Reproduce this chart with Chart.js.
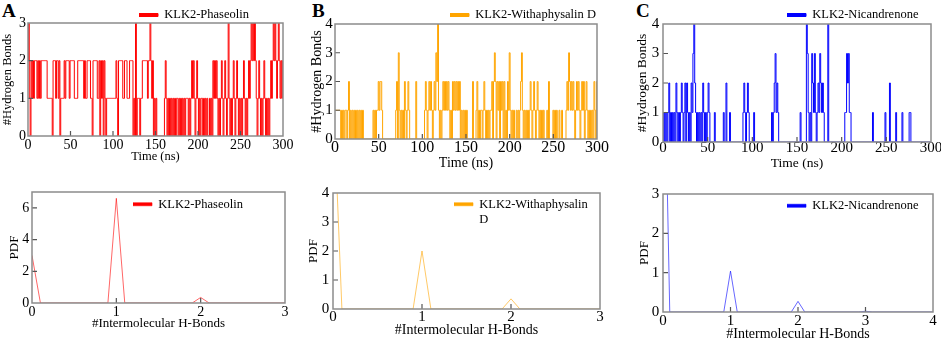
<!DOCTYPE html>
<html>
<head>
<meta charset="utf-8">
<script src="https://cdn.jsdelivr.net/npm/chart.js@4.4.1/dist/chart.umd.min.js"></script>
<style>
  body { margin: 0; background: #fff; }
  #wrap { position: relative; width: 941px; height: 340px; overflow: hidden; }
  #wrap canvas { position: absolute; }
  .tag { position: absolute; font: bold 19px/19px "Liberation Serif", serif; color: #000; }
</style>
</head>
<body>
<div id="wrap">
  <div class="tag" style="left:2px;top:1px">A</div>
  <div class="tag" style="left:312px;top:1px">B</div>
  <div class="tag" style="left:636px;top:1px">C</div>
  <canvas id="hbA" width="305" height="170" style="left:0;top:0"></canvas>
  <canvas id="hbB" width="320" height="175" style="left:305px;top:0"></canvas>
  <canvas id="hbC" width="320" height="175" style="left:625px;top:0"></canvas>
  <canvas id="pdfA" width="305" height="170" style="left:0;top:170px"></canvas>
  <canvas id="pdfB" width="320" height="170" style="left:305px;top:170px"></canvas>
  <canvas id="pdfC" width="320" height="175" style="left:625px;top:170px"></canvas>
</div>
<script>
"use strict";

// H-bond count per frame, one value per ns (0..300 ns)
const timeStepNs = 1;
const hbPhaseolin = [
  2,3,1,0,2,1,2,1,2,2, 2,1,2,1,2,1,2,2,2,2, 2,2,2,1,1,1,1,1,1,0, 2,2,2,1,2,2,1,2,0,1,
  1,1,1,2,1,2,2,2,2,1, 2,2,2,2,2,1,1,1,1,2, 2,2,2,2,2,2,1,2,1,1, 2,2,2,2,1,1,0,2,2,2,
  2,2,1,1,2,0,2,1,2,0, 2,1,0,1,1,1,1,1,1,1, 1,1,1,1,2,1,0,2,2,2, 2,2,1,1,2,2,2,1,1,1,
  2,2,2,2,0,1,0,3,0,1, 1,1,0,1,1,2,2,2,2,2, 2,1,2,2,3,2,1,2,0,1, 0,1,0,0,0,0,0,0,0,0,
  0,1,2,1,0,1,0,1,0,1, 0,1,0,1,0,1,1,0,1,0, 1,0,1,0,1,0,1,1,1,0, 1,0,1,2,1,2,1,0,1,2,
  1,0,1,0,1,1,0,1,0,1, 0,1,0,0,1,0,1,0,2,1, 2,1,2,1,0,1,0,1,2,1, 0,1,2,1,0,1,3,1,0,1,
  0,1,2,1,0,1,2,1,0,1, 0,1,0,1,2,1,0,1,0,1, 2,1,2,3,2,3,2,3,2,1, 0,1,2,1,0,1,0,1,2,1,
  0,1,0,1,0,1,2,1,2,3, 2,3,2,1,2,3,2,1,2,1, 2
];
const hbWithaphysalin = [
  1,1,1,1,1,1,1,0,1,0, 1,0,1,1,0,1,2,0,1,0, 1,0,1,0,1,0,1,0,1,0, 1,0,1,0,0,0,0,0,0,0,
  0,0,0,0,1,0,1,0,1,1, 2,1,2,2,1,0,0,0,0,0, 0,0,0,0,0,0,0,0,0,0, 1,2,0,3,1,0,1,0,1,0,
  2,1,0,1,2,1,0,0,0,0, 0,0,0,2,0,0,0,0,0,0, 0,0,0,1,2,1,0,1,2,1, 2,1,0,1,2,1,3,2,4,1,
  0,1,0,1,2,1,2,1,2,1, 2,1,0,1,0,2,1,2,1,2, 1,2,1,2,0,1,0,1,0,1, 0,1,0,0,0,0,0,0,2,0,
  0,0,1,2,0,1,0,1,1,0, 1,2,1,0,1,0,1,0,1,1, 2,0,2,3,2,0,2,1,2,0, 2,1,2,0,2,0,1,0,2,1,
  3,1,0,1,0,1,0,0,1,0, 1,0,1,2,3,1,0,1,0,1, 0,1,0,1,2,1,0,1,2,1, 0,1,2,1,0,1,0,1,0,1,
  0,0,0,1,0,2,0,0,0,0, 1,0,1,0,1,0,0,1,0,0, 1,0,0,0,0,1,2,1,3,2, 1,2,1,2,1,0,1,2,1,2,
  1,0,1,2,1,2,0,1,2,1, 0,1,0,1,0,1,0,2,1,0, 2
];
const hbNicandrenone = [
  1,0,1,0,1,0,1,2,0,1, 0,1,0,1,0,2,1,0,1,0, 1,2,1,0,1,2,0,2,1,0, 1,0,2,1,3,4,2,1,0,1,
  0,1,0,1,0,2,1,0,1,0, 1,2,1,0,0,0,0,0,1,0, 0,0,0,0,0,0,0,0,1,0, 0,2,0,0,0,1,0,0,0,0,
  0,0,0,0,0,0,0,0,0,0, 1,2,1,0,1,2,1,0,0,0, 0,0,1,0,0,0,0,0,0,0, 0,0,0,0,0,0,0,0,0,0,
  0,0,1,0,1,2,3,1,2,1, 0,0,0,0,0,0,0,0,0,0, 0,0,0,0,0,0,0,0,0,0, 0,0,0,0,1,0,0,0,0,0,
  0,4,3,1,0,1,0,3,2,1, 3,1,0,1,2,1,3,2,1,2, 1,0,0,0,0,4,0,0,0,0, 0,0,0,0,0,0,0,0,0,0,
  0,0,0,0,1,1,3,2,3,1, 1,0,0,0,0,0,0,0,0,0, 0,0,0,0,0,0,0,0,0,0, 0,0,0,0,0,1,0,0,0,0,
  0,0,0,0,0,0,0,0,0,1, 0,0,0,0,2,0,0,0,0,0, 0,1,0,0,0,0,0,0,1,0, 0,0,0,0,0,0,1,1,0,0,
  0,0,0,0,0,0,0,0,0,0, 0,0,0,0,0,0,0,0,0,0, 0
];

// probability density of the H-bond count
const pdfBondsAB = [0, 0.1, 0.9, 1, 1.1, 1.9, 2, 2.1, 3];
const pdfBondsC = [0, 0.1, 0.9, 1, 1.1, 1.9, 2, 2.1, 2.9, 3, 3.1, 4];
const pdfPhaseolin = [3.0, 0, 0, 6.6, 0, 0, 0.35, 0, 0];
const pdfWithaphysalin = [7.6, 0, 0, 2.0, 0, 0, 0.35, 0, 0];
const pdfNicandrenone = [8.66, 0, 0, 1.04, 0, 0, 0.27, 0, 0, 0.02, 0, 0];

const timeTicks = [0, 300, 50];
const serif = '"Liberation Serif", "Times New Roman", serif';

// grey frame all round + short ticks pointing inward (xmgrace look)
const frameAndTicks = {
  id: 'frameAndTicks',
  afterDatasetsDraw(chart) {
    const { ctx, chartArea: a, scales } = chart;
    ctx.save();
    ctx.strokeStyle = '#555';
    ctx.lineWidth = 1.2;
    ctx.beginPath();
    scales.x.ticks.forEach(t => {
      if (t.value <= scales.x.min || t.value >= scales.x.max) return;
      const px = scales.x.getPixelForValue(t.value);
      ctx.moveTo(px, a.bottom); ctx.lineTo(px, a.bottom - 5);
    });
    scales.y.ticks.forEach(t => {
      if (t.value <= scales.y.min || t.value >= scales.y.max) return;
      const py = scales.y.getPixelForValue(t.value);
      ctx.moveTo(a.left, py); ctx.lineTo(a.left + 5, py);
    });
    ctx.stroke();
    ctx.strokeStyle = '#8c8c8c';
    ctx.lineWidth = 1.5;
    ctx.strokeRect(a.left, a.top, a.right - a.left, a.bottom - a.top);
    ctx.restore();
  }
};

// put the legend where the figure has it
const legendSpot = {
  id: 'legendSpot',
  afterLayout(chart, args, opts) {
    const lg = chart.legend;
    if (!lg || opts.x === undefined) return;
    lg.left = opts.x; lg.top = opts.y;
    lg.right = opts.x + 230; lg.bottom = opts.y + 40;
    lg.width = 230; lg.height = 40;
  }
};

function drawPanel(id, s) {
  new Chart(document.getElementById(id), {
    type: 'line',
    data: {
      datasets: [{
        label: s.label,
        data: s.xs.map((x, i) => ({ x: x, y: s.ys[i] })),
        borderColor: s.line,
        backgroundColor: s.color,
        borderWidth: s.width,
        stepped: s.stepped || false,
        pointRadius: 0,
        tension: 0
      }]
    },
    options: {
      responsive: false,
      animation: false,
      devicePixelRatio: 1,
      layout: { padding: s.pad },
      plugins: {
        tooltip: { enabled: false },
        legend: {
          position: 'chartArea',
          align: 'start',
          labels: { boxWidth: 19, boxHeight: 3, padding: 0, color: '#000', font: { family: serif, size: 12.5 } }
        },
        legendSpot: { x: s.legend[0], y: s.legend[1] }
      },
      scales: {
        x: {
          type: 'linear', min: s.xRange[0], max: s.xRange[1],
          grid: { display: false, drawTicks: false },
          border: { display: false },
          ticks: { stepSize: s.xRange[2], maxRotation: 0, padding: s.xTickPad, color: '#000',
                   font: { family: serif, size: s.xTickSize, lineHeight: 1 } },
          title: { display: true, text: s.xTitle, color: '#000', padding: { top: 0, bottom: s.xTitlePad },
                   font: { family: serif, size: s.xTitleSize } },
          afterFit: sc => { sc.height = s.xh; }
        },
        y: {
          min: 0, max: s.yMax,
          grid: { display: false, drawTicks: false },
          border: { display: false },
          ticks: { stepSize: 1, padding: s.yTickPad, color: '#000',
                   font: { family: serif, size: s.yTickSize, lineHeight: 1 } },
          title: { display: true, text: s.yTitle, color: '#000', padding: { top: 0, bottom: 0 },
                   font: { family: serif, size: s.yTitleSize } },
          afterFit: sc => { sc.width = s.yw; }
        }
      }
    },
    plugins: [frameAndTicks, legendSpot]
  });
}

const timeAxis = hbPhaseolin.map((v, i) => i * timeStepNs);

drawPanel('hbA', {
  label: 'KLK2-Phaseolin', xs: timeAxis, ys: hbPhaseolin, line: '#ff0000', color: '#ff0000', width: 1, stepped: 'middle',
  pad: { left: 0, top: 23, right: 22, bottom: 0 }, yw: 28, xh: 34,
  xRange: timeTicks, yMax: 3, xTickPad: 2.5, xTickSize: 14, xTitle: 'Time (ns)', xTitlePad: 5.5, xTitleSize: 12.5,
  yTickPad: 2, yTickSize: 14, yTitle: '#Hydrogen Bonds', yTitleSize: 12.5, legend: [139, 8.75]
});
drawPanel('hbB', {
  label: 'KLK2-Withaphysalin D', xs: timeAxis, ys: hbWithaphysalin, line: '#ffa500', color: '#ffa500', width: 1, stepped: 'middle',
  pad: { left: 4, top: 24, right: 28, bottom: 0 }, yw: 26, xh: 36,
  xRange: timeTicks, yMax: 4, xTickPad: 1, xTickSize: 16, xTitle: 'Time (ns)', xTitlePad: 3.6, xTitleSize: 14,
  yTickPad: 2.3, yTickSize: 15, yTitle: '#Hydrogen Bonds', yTitleSize: 14, legend: [145, 8.75]
});
drawPanel('hbC', {
  label: 'KLK2-Nicandrenone', xs: timeAxis, ys: hbNicandrenone, line: '#0000ff', color: '#0000ff', width: 1, stepped: 'middle',
  pad: { left: 9.4, top: 24, right: 14, bottom: 0 }, yw: 28.6, xh: 33,
  xRange: timeTicks, yMax: 4, xTickPad: -1, xTickSize: 15, xTitle: 'Time (ns)', xTitlePad: 3.6, xTitleSize: 13.5,
  yTickPad: 3.7, yTickSize: 15, yTitle: '#Hydrogen Bonds', yTitleSize: 13.5, legend: [162, 8.75]
});
drawPanel('pdfA', {
  label: 'KLK2-Phaseolin', xs: pdfBondsAB, ys: pdfPhaseolin, line: 'rgba(255,0,0,0.6)', color: '#ff0000', width: 1,
  pad: { left: 7.2, top: 22, right: 20, bottom: 0 }, yw: 24.8, xh: 37,
  xRange: [0, 3, 1], yMax: 7, xTickPad: 2.2, xTickSize: 14, xTitle: '#Intermolecular H-Bonds', xTitlePad: 8.2, xTitleSize: 13,
  yTickPad: 2.7, yTickSize: 14, yTitle: 'PDF', yTitleSize: 13, legend: [133, 28]
});
drawPanel('pdfB', {
  label: ['KLK2-Withaphysalin', 'D'], xs: pdfBondsAB, ys: pdfWithaphysalin, line: 'rgba(255,165,0,0.6)', color: '#ffa500', width: 1,
  pad: { left: 1.2, top: 23, right: 25, bottom: 0 }, yw: 26.8, xh: 31,
  xRange: [0, 3, 1], yMax: 4, xTickPad: 0.7, xTickSize: 15, xTitle: '#Intermolecular H-Bonds', xTitlePad: 1.6, xTitleSize: 14,
  yTickPad: 3.7, yTickSize: 15, yTitle: 'PDF', yTitleSize: 13, legend: [149, 28]
});
drawPanel('pdfC', {
  label: 'KLK2-Nicandrenone', xs: pdfBondsC, ys: pdfNicandrenone, line: 'rgba(0,0,255,0.6)', color: '#0000ff', width: 1,
  pad: { left: 12.2, top: 24, right: 12, bottom: 0 }, yw: 25.8, xh: 33,
  xRange: [0, 4, 1], yMax: 3, xTickPad: 2, xTickSize: 15, xTitle: '#Intermolecular H-Bonds', xTitlePad: 2.6, xTitleSize: 14,
  yTickPad: 3.7, yTickSize: 15, yTitle: 'PDF', yTitleSize: 13, legend: [162, 29.5]
});
</script>
</body>
</html>
